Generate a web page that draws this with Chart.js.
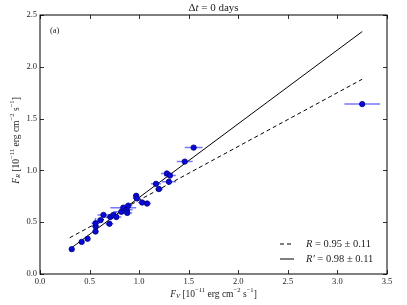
<!DOCTYPE html>
<html lang="en">
<head>
<meta charset="UTF-8">
<title>Delta t = 0 days</title>
<script src="https://cdn.jsdelivr.net/npm/chart.js@4"></script>
<style>
  body { margin: 0; background: #fff; }
  #wrap { width: 407px; height: 305px; }
</style>
</head>
<body>
<div id="wrap"><canvas id="fluxChart"></canvas></div>
<script>
// V-band vs R-band flux, 10^-11 erg cm^-2 s^-1
const fv    = [0.32, 0.42, 0.48, 0.56, 0.56, 0.56, 0.61, 0.64, 0.70, 0.71, 0.74, 0.77, 0.82, 0.84, 0.875, 0.89, 0.88, 0.97, 0.975, 1.03, 1.08, 1.17, 1.20, 1.28, 1.31, 1.30, 1.46, 1.55, 3.25];
const fr    = [0.24, 0.31, 0.34, 0.41, 0.46, 0.49, 0.52, 0.57, 0.485, 0.55, 0.57, 0.55, 0.60, 0.64, 0.62, 0.66, 0.59, 0.755, 0.73, 0.69, 0.68, 0.87, 0.82, 0.97, 0.95, 0.89, 1.085, 1.22, 1.64];
const fvErr = [0.02, 0.02, 0.02, 0.03, 0.04, 0.04, 0.03, 0.06, 0.04, 0.05, 0.05, 0.05, 0.08, 0.13, 0.06, 0.04, 0.05, 0.03, 0.04, 0.04, 0.04, 0.05, 0.04, 0.06, 0.06, 0.07, 0.08, 0.09, 0.18];
const frErr = [0.01, 0.01, 0.01, 0.01, 0.03, 0.05, 0.01, 0.01, 0.01, 0.01, 0.01, 0.01, 0.01, 0.01, 0.01, 0.01, 0.01, 0.01, 0.01, 0.01, 0.01, 0.01, 0.01, 0.01, 0.01, 0.01, 0.01, 0.01, 0.01];

// fitted relations (end points)
const fitX      = [0.30, 3.25];
const fitDashed = [0.35, 1.88];
const fitSolid  = [0.24, 2.34];
const fitLabels = [
  [['R', 'i'], [' = 0.95 \u00b1 0.11', '']],
  [['R\u2032', 'i'], [' = 0.98 \u00b1 0.11', '']]
];

const FONT = '"Liberation Serif", "DejaVu Serif", serif';

// draw text with italic parts and sub/superscripts
function richText(ctx, parts, x, y, size, align) {
  const pieces = parts.map(p => {
    const small = p[2] ? size * 0.7 : size;
    const font = (p[1] === 'i' ? 'italic ' : '') + small + 'px ' + FONT;
    ctx.font = font;
    return { t: p[0], font, w: ctx.measureText(p[0]).width, dy: p[2] === 'sup' ? -size * 0.38 : p[2] === 'sub' ? size * 0.25 : 0 };
  });
  const total = pieces.reduce((s, p) => s + p.w, 0);
  let cx = align === 'center' ? x - total / 2 : align === 'right' ? x - total : x;
  ctx.textAlign = 'left';
  ctx.textBaseline = 'middle';
  pieces.forEach(p => {
    ctx.font = p.font;
    ctx.fillText(p.t, cx, y + p.dy);
    cx += p.w;
  });
}

const decor = {
  id: 'decor',
  beforeDatasetsDraw(chart) {
    const { ctx, scales: { x, y } } = chart;
    ctx.save();
    ctx.strokeStyle = 'rgba(30,30,255,0.6)';
    ctx.lineWidth = 1.5;
    fv.forEach((v, i) => {
      const px = x.getPixelForValue(v), py = y.getPixelForValue(fr[i]);
      ctx.beginPath();
      ctx.moveTo(x.getPixelForValue(v - fvErr[i]), py);
      ctx.lineTo(x.getPixelForValue(v + fvErr[i]), py);
      ctx.moveTo(px, y.getPixelForValue(fr[i] - frErr[i]));
      ctx.lineTo(px, y.getPixelForValue(fr[i] + frErr[i]));
      ctx.stroke();
    });
    ctx.restore();
  },
  afterDatasetsDraw(chart) {
    const { ctx, chartArea: a, scales: { x, y } } = chart;
    ctx.save();
    ctx.strokeStyle = '#000';
    ctx.lineWidth = 1;
    ctx.strokeRect(a.left, a.top, a.right - a.left, a.bottom - a.top);
    // inward ticks on all four sides
    ctx.lineWidth = 0.8;
    ctx.beginPath();
    x.ticks.forEach(t => {
      const px = Math.round(x.getPixelForValue(t.value)) + 0.5;
      ctx.moveTo(px, a.bottom); ctx.lineTo(px, a.bottom - 4);
      ctx.moveTo(px, a.top); ctx.lineTo(px, a.top + 4);
    });
    y.ticks.forEach(t => {
      const py = Math.round(y.getPixelForValue(t.value)) + 0.5;
      ctx.moveTo(a.left, py); ctx.lineTo(a.left + 4, py);
      ctx.moveTo(a.right, py); ctx.lineTo(a.right - 4, py);
    });
    ctx.stroke();

    ctx.fillStyle = '#222';
    // title
    richText(ctx, [['\u0394', ''], ['t', 'i'], [' = 0 days', '']], (a.left + a.right) / 2, 8, 11, 'center');
    // panel label
    richText(ctx, [['(a)', '']], a.left + 10, 31, 8.5, 'left');
    // axis titles
    const unit = [[' [10', ''], ['\u221211', '', 'sup'], [' erg cm', ''], ['\u22122', '', 'sup'], [' s', ''], ['\u22121', '', 'sup'], [']', '']];
    richText(ctx, [['F', 'i'], ['V', 'i', 'sub']].concat(unit), (a.left + a.right) / 2, 294, 9.5, 'center');
    ctx.save();
    ctx.translate(16, (a.top + a.bottom) / 2 - 4);
    ctx.rotate(-Math.PI / 2);
    richText(ctx, [['F', 'i'], ['R', 'i', 'sub']].concat(unit), 0, 0, 9.5, 'center');
    ctx.restore();

    // legend, bottom right
    [1, 2].forEach((di, k) => {
      const ds = chart.data.datasets[di];
      const ly = 244 + k * 15;
      ctx.strokeStyle = ds.borderColor;
      ctx.lineWidth = ds.borderWidth;
      ctx.setLineDash(ds.borderDash || []);
      ctx.beginPath();
      ctx.moveTo(280, ly); ctx.lineTo(294, ly);
      ctx.stroke();
      ctx.setLineDash([]);
      richText(ctx, fitLabels[k], 306, ly, 10.5, 'left');
    });
    ctx.restore();
  }
};

new Chart(document.getElementById('fluxChart'), {
  type: 'scatter',
  data: {
    datasets: [
      {
        label: 'data',
        data: fv.map((v, i) => ({ x: v, y: fr[i] })),
        backgroundColor: '#0a0ad8',
        borderColor: '#00007a',
        borderWidth: 0.8,
        pointRadius: 2.7,
        order: 0
      },
      {
        label: 'R',
        data: fitX.map((v, i) => ({ x: v, y: fitDashed[i] })),
        showLine: true, pointRadius: 0,
        borderColor: '#000', borderWidth: 1, borderDash: [4, 3],
        order: 1
      },
      {
        label: "R'",
        data: fitX.map((v, i) => ({ x: v, y: fitSolid[i] })),
        showLine: true, pointRadius: 0,
        borderColor: '#000', borderWidth: 1,
        order: 1
      }
    ]
  },
  options: {
    responsive: true,
    maintainAspectRatio: false,
    animation: false,
    layout: { padding: { top: 15, right: 20, left: 0, bottom: 0 } },
    plugins: { legend: { display: false }, tooltip: { enabled: false } },
    scales: {
      x: {
        type: 'linear', min: 0, max: 3.5,
        grid: { display: false, drawTicks: false },
        border: { display: false },
        ticks: { stepSize: 0.5, padding: 3, color: '#222', font: { family: FONT, size: 8.5 }, callback: v => v.toFixed(1), maxRotation: 0 },
        afterFit: s => { s.height = 31; }
      },
      y: {
        type: 'linear', min: 0, max: 2.5,
        grid: { display: false, drawTicks: false },
        border: { display: false },
        ticks: { stepSize: 0.5, padding: 3, color: '#222', font: { family: FONT, size: 8.5 }, callback: v => v.toFixed(1) },
        afterFit: s => { s.width = 40; }
      }
    }
  },
  plugins: [decor]
});
</script>
</body>
</html>
